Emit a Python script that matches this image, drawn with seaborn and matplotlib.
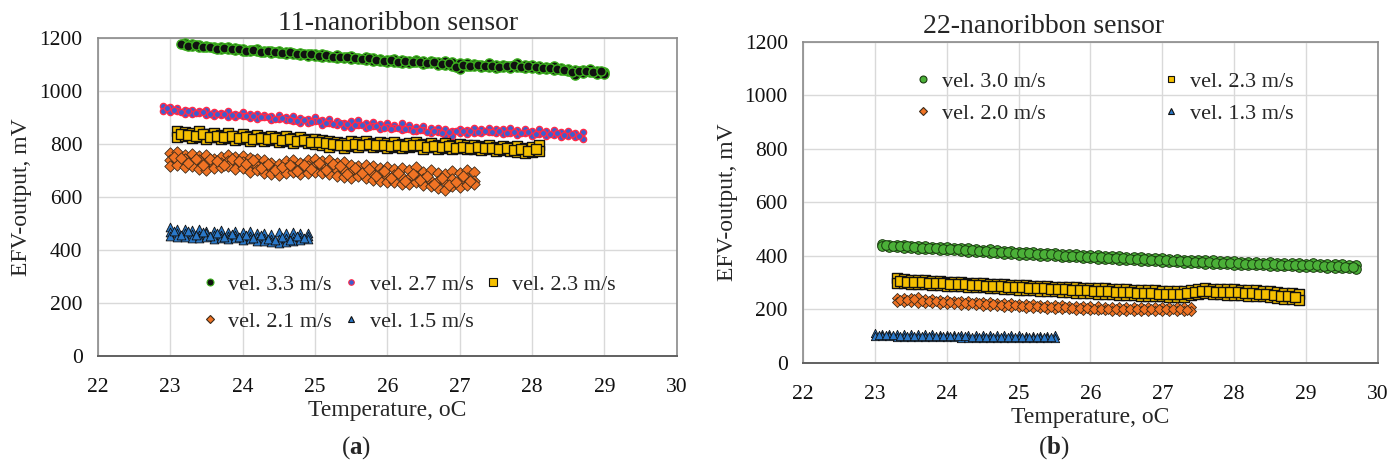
import matplotlib
matplotlib.use("Agg")
import matplotlib.pyplot as plt
import seaborn as sns
import pandas as pd
from matplotlib.lines import Line2D

# ---------------- Panel (a): 11-nanoribbon sensor ----------------
# sweep 1 (temperatures) with two readings, sweep 2 (in-between temperatures) with one reading
a33_t = [23.2,23.3,23.4,23.5,23.6,23.7,23.8,23.9,24.0,24.1,24.2,24.3,24.4,24.5,24.6,24.7,24.8,24.9,25.0,25.1,
         25.2,25.3,25.4,25.5,25.6,25.7,25.8,25.9,26.0,26.1,26.2,26.3,26.4,26.5,26.6,26.7,26.8,26.9,27.0,27.1,
         27.2,27.3,27.4,27.5,27.6,27.7,27.8,27.9,28.0,28.1,28.2,28.3,28.4,28.5,28.6,28.7,28.8,28.9,29.0]
a33_v1 = [1180,1176,1174,1171,1168,1166,1165,1162,1160,1156,1158,1152,1150,1152,1146,1144,1145,1140,1138,1140,
          1134,1136,1130,1132,1126,1128,1124,1120,1118,1122,1116,1114,1118,1112,1114,1110,1112,1108,1106,1104,
          1102,1100,1104,1098,1100,1096,1104,1098,1100,1094,1092,1096,1088,1084,1080,1078,1082,1076,1072]
a33_v2 = [1172,1170,1166,1165,1162,1160,1158,1156,1153,1150,1150,1146,1144,1142,1140,1138,1136,1134,1132,1130,
          1128,1126,1124,1122,1120,1118,1114,1112,1108,1110,1106,1104,1108,1102,1104,1100,1098,1094,1082,1096,
          1094,1092,1090,1088,1092,1086,1090,1088,1086,1084,1082,1080,1078,1074,1062,1068,1070,1064,1066]
a33_t2 = [23.15,23.25,23.35,23.45,23.55,23.65,23.75,23.85,23.95,24.05,24.15,24.25,24.35,24.45,24.55,24.65,24.75,24.85,24.95,25.05,
          25.15,25.25,25.35,25.45,25.55,25.65,25.75,25.85,25.95,26.05,26.15,26.25,26.35,26.45,26.55,26.65,26.75,26.85,26.95,27.05,
          27.15,27.25,27.35,27.45,27.55,27.65,27.75,27.85,27.95,28.05,28.15,28.25,28.35,28.45,28.55,28.65,28.75,28.85,28.95]
a33_v3 = [1178,1170,1172,1166,1168,1160,1163,1158,1160,1152,1154,1148,1150,1146,1144,1146,1140,1138,1140,1134,
          1136,1130,1128,1130,1124,1122,1124,1116,1114,1116,1110,1112,1108,1110,1106,1108,1102,1104,1090,1100,
          1096,1098,1094,1096,1092,1094,1098,1092,1094,1090,1088,1086,1084,1080,1070,1074,1076,1070,1074]

a27_t = [22.9,23.0,23.1,23.2,23.3,23.4,23.5,23.6,23.7,23.8,23.9,24.0,24.1,24.2,24.3,24.4,24.5,24.6,24.7,24.8,
         24.9,25.0,25.1,25.2,25.3,25.4,25.5,25.6,25.7,25.8,25.9,26.0,26.1,26.2,26.3,26.4,26.5,26.6,26.7,26.8,
         26.9,27.0,27.1,27.2,27.3,27.4,27.5,27.6,27.7,27.8,27.9,28.0,28.1,28.2,28.3,28.4,28.5,28.6,28.7]
a27_v1 = [945,938,935,930,928,925,930,922,918,925,915,920,912,915,910,905,910,902,905,898,
          895,900,892,895,888,880,885,890,878,882,875,880,872,878,870,865,868,860,862,855,
          850,858,852,860,855,862,858,855,860,852,858,850,855,848,852,845,850,842,845]
a27_v2 = [925,920,925,915,912,918,910,905,908,902,900,905,898,895,900,892,895,890,885,880,
          878,885,870,878,872,865,860,870,862,868,858,865,860,852,855,848,852,840,845,835,
          832,840,838,842,840,845,842,838,840,835,840,832,838,830,835,828,832,825,820]
a27_t2 = [22.95,23.05,23.15,23.25,23.35,23.45,23.55,23.65,23.75,23.85,23.95,24.05,24.15,24.25,24.35,24.45,24.55,24.65,24.75,24.85,
          24.95,25.05,25.15,25.25,25.35,25.45,25.55,25.65,25.75,25.85,25.95,26.05,26.15,26.25,26.35,26.45,26.55,26.65,26.75,26.85,
          26.95,27.05,27.15,27.25,27.35,27.45,27.55,27.65,27.75,27.85,27.95,28.05,28.15,28.25,28.35,28.45,28.55,28.65]
a27_v3 = [935,928,922,926,918,920,915,912,914,908,910,904,906,900,902,896,898,892,888,890,
          884,886,878,875,880,874,870,872,866,868,862,858,862,855,850,854,846,848,842,846,
          848,850,848,846,850,845,848,842,846,840,844,838,842,836,840,834,838,832]

a23_t = [23.1,23.2,23.3,23.4,23.5,23.6,23.7,23.8,23.9,24.0,24.1,24.2,24.3,24.4,24.5,24.6,24.7,24.8,24.9,25.0,
         25.1,25.2,25.3,25.4,25.5,25.6,25.7,25.8,25.9,26.0,26.1,26.2,26.3,26.4,26.5,26.6,26.7,26.8,26.9,27.0,
         27.1,27.2,27.3,27.4,27.5,27.6,27.7,27.8,27.9,28.0,28.1]
a23_v1 = [850,845,840,848,838,842,835,840,832,836,830,834,828,832,826,830,822,826,820,818,
          815,812,808,805,810,806,812,804,808,802,806,800,805,808,800,804,798,802,796,800,
          795,798,792,796,790,794,788,792,786,790,795]
a23_v2 = [825,830,822,828,820,825,818,822,815,820,812,818,810,815,808,812,805,810,802,800,
          795,790,795,785,792,790,795,788,792,786,790,785,788,792,780,788,782,786,780,784,
          780,782,778,780,775,778,772,770,765,770,775]
a23_t2 = [23.15,23.25,23.35,23.45,23.55,23.65,23.75,23.85,23.95,24.05,24.15,24.25,24.35,24.45,24.55,24.65,24.75,24.85,24.95,25.05,
          25.15,25.25,25.35,25.45,25.55,25.65,25.75,25.85,25.95,26.05,26.15,26.25,26.35,26.45,26.55,26.65,26.75,26.85,26.95,27.05,
          27.15,27.25,27.35,27.45,27.55,27.65,27.75,27.85,27.95,28.05]
a23_v3 = [838,835,830,836,828,832,826,830,824,826,820,824,818,822,815,818,812,814,808,806,
          802,800,798,796,800,797,800,795,798,794,796,792,795,798,790,794,788,792,786,790,
          786,788,784,786,780,783,778,780,775,780]

a21_t = [23.0,23.1,23.2,23.3,23.4,23.5,23.6,23.7,23.8,23.9,24.0,24.1,24.2,24.3,24.4,24.5,24.6,24.7,24.8,24.9,
         25.0,25.1,25.2,25.3,25.4,25.5,25.6,25.7,25.8,25.9,26.0,26.1,26.2,26.3,26.4,26.5,26.6,26.7,26.8,26.9,
         27.0,27.1,27.2]
a21_v1 = [765,770,760,762,755,760,745,752,758,750,755,748,745,738,730,725,735,740,730,738,
          742,735,740,728,732,720,718,722,715,710,712,705,708,700,712,695,700,690,685,698,
          692,700,695]
a21_v2 = [740,735,742,730,738,728,722,730,735,725,732,720,718,712,705,700,708,712,705,715,
          718,712,710,702,700,695,698,692,688,685,680,682,675,672,680,668,662,660,655,668,
          660,670,662]
a21_v3 = [715,720,712,718,705,700,708,712,715,705,710,695,700,690,688,682,690,695,686,692,
          695,690,688,680,675,672,678,670,665,660,658,655,650,648,655,645,640,635,628,640,
          638,645,650]
a21_t2 = [23.05,23.15,23.25,23.35,23.45,23.55,23.65,23.75,23.85,23.95,24.05,24.15,24.25,24.35,24.45,24.55,24.65,24.75,24.85,24.95,
          25.05,25.15,25.25,25.35,25.45,25.55,25.65,25.75,25.85,25.95,26.05,26.15,26.25,26.35,26.45,26.55,26.65,26.75,26.85,26.95,
          27.05,27.15]
a21_v4 = [752,748,730,745,722,742,735,720,742,735,725,738,708,725,700,712,722,698,722,705,
          728,700,725,715,688,708,690,705,678,698,670,690,662,688,665,680,650,672,645,655,
          678,660]

a15_t = [23.0,23.1,23.2,23.3,23.4,23.5,23.6,23.7,23.8,23.9,24.0,24.1,24.2,24.3,24.4,24.5,24.6,24.7,24.8,24.9]
a15_v1 = [485,478,480,475,478,472,470,474,468,472,466,470,462,465,460,466,462,468,464,462]
a15_v2 = [468,462,465,460,458,462,455,458,452,455,450,452,448,445,442,440,445,448,450,452]
a15_v3 = [452,450,448,446,444,448,442,446,440,444,438,440,434,432,428,426,430,434,436,440]
a15_t2 = [23.05,23.15,23.25,23.35,23.45,23.55,23.65,23.75,23.85,23.95,24.05,24.15,24.25,24.35,24.45,24.55,24.65,24.75,24.85]
a15_v4 = [472,458,470,455,466,452,462,450,460,448,458,444,455,440,436,448,438,452,446]

# ---------------- Panel (b): 22-nanoribbon sensor ----------------
b30_t = [23.1,23.2,23.3,23.4,23.5,23.6,23.7,23.8,23.9,24.0,24.1,24.2,24.3,24.4,24.5,24.6,24.7,24.8,24.9,25.0,
         25.1,25.2,25.3,25.4,25.5,25.6,25.7,25.8,25.9,26.0,26.1,26.2,26.3,26.4,26.5,26.6,26.7,26.8,26.9,27.0,
         27.1,27.2,27.3,27.4,27.5,27.6,27.7,27.8,27.9,28.0,28.1,28.2,28.3,28.4,28.5,28.6,28.7,28.8,28.9,29.0,
         29.1,29.2,29.3,29.4,29.5,29.6,29.7]
b30_v1 = [446,442,440,441,438,437,438,434,433,434,430,428,429,425,423,424,420,418,419,415,
          414,415,412,410,411,408,406,407,404,402,403,400,398,399,396,395,396,392,391,392,
          389,390,386,385,386,383,384,380,379,380,377,378,376,375,378,374,375,373,372,371,
          372,370,369,370,368,366,365]
b30_v2 = [436,434,432,430,429,427,426,424,422,422,420,418,416,414,413,411,409,407,405,404,
          404,402,401,399,398,396,395,394,392,391,390,389,388,386,385,384,382,381,380,378,
          377,376,375,374,372,371,370,369,368,366,366,365,364,364,363,362,362,361,360,359,
          358,357,356,355,354,353,352]
b30_t2 = [23.15,23.25,23.35,23.45,23.55,23.65,23.75,23.85,23.95,24.05,24.15,24.25,24.35,24.45,24.55,24.65,24.75,24.85,24.95,25.05,
          25.15,25.25,25.35,25.45,25.55,25.65,25.75,25.85,25.95,26.05,26.15,26.25,26.35,26.45,26.55,26.65,26.75,26.85,26.95,27.05,
          27.15,27.25,27.35,27.45,27.55,27.65,27.75,27.85,27.95,28.05,28.15,28.25,28.35,28.45,28.55,28.65,28.75,28.85,28.95,29.05,
          29.15,29.25,29.35,29.45,29.55,29.65]
b30_v3 = [440,437,435,436,433,431,430,429,427,426,424,422,421,419,418,416,414,413,412,410,
          409,407,406,405,403,401,400,399,397,396,395,393,392,391,390,388,387,386,385,383,
          382,381,380,378,377,376,375,373,372,372,371,370,369,368,369,367,366,367,365,364,
          364,363,362,362,360,359]

b23_t = [23.3,23.4,23.5,23.6,23.7,23.8,23.9,24.0,24.1,24.2,24.3,24.4,24.5,24.6,24.7,24.8,24.9,25.0,25.1,25.2,
         25.3,25.4,25.5,25.6,25.7,25.8,25.9,26.0,26.1,26.2,26.3,26.4,26.5,26.6,26.7,26.8,26.9,27.0,27.1,27.2,
         27.3,27.4,27.5,27.6,27.7,27.8,27.9,28.0,28.1,28.2,28.3,28.4,28.5,28.6,28.7,28.8,28.9]
b23_v1 = [318,312,310,309,308,306,305,304,303,301,300,299,297,296,295,294,292,291,290,289,
          288,286,285,284,283,282,281,280,279,278,277,276,275,274,273,272,271,270,270,269,
          268,272,276,278,276,277,275,276,274,273,272,270,268,265,262,260,256]
b23_v2 = [300,298,296,295,293,292,290,289,288,286,284,283,282,280,278,276,275,274,272,271,
          270,268,267,266,264,262,261,260,259,258,256,255,254,252,251,250,249,248,247,246,
          246,254,258,260,258,257,255,254,252,251,250,248,245,242,240,238,236]
b23_t2 = [23.35,23.45,23.55,23.65,23.75,23.85,23.95,24.05,24.15,24.25,24.35,24.45,24.55,24.65,24.75,24.85,24.95,25.05,25.15,25.25,
          25.35,25.45,25.55,25.65,25.75,25.85,25.95,26.05,26.15,26.25,26.35,26.45,26.55,26.65,26.75,26.85,26.95,27.05,27.15,27.25,
          27.35,27.45,27.55,27.65,27.75,27.85,27.95,28.05,28.15,28.25,28.35,28.45,28.55,28.65,28.75,28.85]
b23_v3 = [306,304,302,301,300,298,297,296,294,293,292,290,289,288,286,285,284,282,281,280,
          279,277,276,275,273,272,271,270,268,267,266,265,264,262,261,260,259,258,257,256,
          262,266,268,267,266,265,264,263,262,260,258,256,252,250,248,246]

b20_t = [23.3,23.4,23.5,23.6,23.7,23.8,23.9,24.0,24.1,24.2,24.3,24.4,24.5,24.6,24.7,24.8,24.9,25.0,25.1,25.2,
         25.3,25.4,25.5,25.6,25.7,25.8,25.9,26.0,26.1,26.2,26.3,26.4,26.5,26.6,26.7,26.8,26.9,27.0,27.1,27.2,
         27.3,27.4]
b20_v1 = [242,244,241,246,240,238,236,235,233,232,230,229,228,226,225,224,222,221,220,219,
          218,217,216,215,214,213,212,211,211,210,210,209,209,209,210,210,209,210,209,208,
          208,207]
b20_v2 = [226,228,226,225,224,222,221,220,219,218,216,215,214,212,211,210,208,207,206,205,
          204,203,202,201,200,199,198,197,196,196,195,195,194,194,195,194,193,192,193,194,
          193,194]
b20_t2 = [23.35,23.45,23.55,23.65,23.75,23.85,23.95,24.05,24.15,24.25,24.35,24.45,24.55,24.65,24.75,24.85,24.95,25.05,25.15,25.25,
          25.35,25.45,25.55,25.65,25.75,25.85,25.95,26.05,26.15,26.25,26.35,26.45,26.55,26.65,26.75,26.85,26.95,27.05,27.15,27.25,
          27.35]
b20_v3 = [236,235,238,232,231,230,228,227,226,225,223,222,220,219,218,216,215,214,212,211,
          210,209,208,207,206,205,204,203,203,202,201,201,202,201,200,201,200,200,201,200,
          199]

b13_t = [23.0,23.1,23.2,23.3,23.4,23.5,23.6,23.7,23.8,23.9,24.0,24.1,24.2,24.3,24.4,24.5,24.6,24.7,24.8,24.9,
         25.0,25.1,25.2,25.3,25.4,25.5]
b13_v1 = [112,109,108,108,107,107,106,106,106,105,105,105,104,104,104,104,103,103,103,103,
          103,102,102,102,102,104]
b13_v2 = [100,99,99,98,98,97,97,96,96,95,95,95,94,94,94,93,93,93,93,92,
          92,92,92,92,92,92]
b13_t2 = [23.05,23.15,23.25,23.35,23.45,23.55,23.65,23.75,23.85,23.95,24.05,24.15,24.25,24.35,24.45,24.55,24.65,24.75,24.85,24.95,
          25.05,25.15,25.25,25.35,25.45]
b13_v3 = [104,103,103,102,102,101,101,100,100,100,99,99,99,98,98,98,98,97,97,97,
          97,97,96,96,96]

labels_a = ["vel. 3.3 m/s", "vel. 2.7 m/s", "vel. 2.3 m/s", "vel. 2.1 m/s", "vel. 1.5 m/s"]
labels_b = ["vel. 3.0 m/s", "vel. 2.3 m/s", "vel. 2.0 m/s", "vel. 1.3 m/s"]


def long_df(label, t, *readings):
    rows = []
    for r in readings:
        for x, y in zip(t, r):
            rows.append((label, x, y))
    return pd.DataFrame(rows, columns=["series", "temp", "efv"])


df_a = pd.concat([
    long_df(labels_a[0], a33_t, a33_v1, a33_v2), long_df(labels_a[0], a33_t2, a33_v3),
    long_df(labels_a[1], a27_t, a27_v1, a27_v2), long_df(labels_a[1], a27_t2, a27_v3),
    long_df(labels_a[2], a23_t, a23_v1, a23_v2), long_df(labels_a[2], a23_t2, a23_v3),
    long_df(labels_a[3], a21_t, a21_v1, a21_v2, a21_v3), long_df(labels_a[3], a21_t2, a21_v4),
    long_df(labels_a[4], a15_t, a15_v1, a15_v2, a15_v3), long_df(labels_a[4], a15_t2, a15_v4),
])
df_b = pd.concat([
    long_df(labels_b[0], b30_t, b30_v1, b30_v2), long_df(labels_b[0], b30_t2, b30_v3),
    long_df(labels_b[1], b23_t, b23_v1, b23_v2), long_df(labels_b[1], b23_t2, b23_v3),
    long_df(labels_b[2], b20_t, b20_v1, b20_v2), long_df(labels_b[2], b20_t2, b20_v3),
    long_df(labels_b[3], b13_t, b13_v1, b13_v2), long_df(labels_b[3], b13_t2, b13_v3),
])

# style: (marker, face, edge, size, edge width)
style_a = {
    labels_a[0]: ("o", "#111111", "#3cb01e", 44, 1.0),
    labels_a[1]: ("o", "#3a5fd0", "#ff2a4a", 20, 1.0),
    labels_a[2]: ("s", "#f5c000", "#111111", 56, 1.0),
    labels_a[3]: ("D", "#f07324", "#3a2a1a", 34, 0.6),
    labels_a[4]: ("^", "#2a78c8", "#111111", 40, 0.6),
}
style_b = {
    labels_b[0]: ("o", "#4bb038", "#1a3a10", 48, 0.7),
    labels_b[1]: ("s", "#f5c000", "#111111", 54, 1.0),
    labels_b[2]: ("D", "#f07324", "#3a2a1a", 26, 0.6),
    labels_b[3]: ("^", "#2a78c8", "#111111", 36, 0.6),
}

sns.set_theme(style="white")
plt.rcParams["font.family"] = ["Liberation Serif", "DejaVu Serif"]
plt.rcParams["mathtext.fontset"] = "custom"
plt.rcParams["mathtext.rm"] = "Liberation Serif"
plt.rcParams["mathtext.bf"] = "Liberation Serif:bold"

fig = plt.figure(figsize=(13.98, 4.70), dpi=100)
ax_a = fig.add_axes([0.070, 0.243, 0.414, 0.676])
ax_b = fig.add_axes([0.5745, 0.228, 0.411, 0.683])


def draw(ax, df, labels, styles, title, title_x):
    for lab in labels:
        m, fc, ec, s, lw = styles[lab]
        sns.scatterplot(data=df[df["series"] == lab], x="temp", y="efv", ax=ax,
                        marker=m, color=fc, edgecolor=ec, s=s, linewidth=lw,
                        legend=False, zorder=3)
    ax.set_xlim(22, 30)
    ax.set_ylim(0, 1200)
    ax.set_xticks(range(22, 31))
    ax.set_yticks(range(0, 1201, 200))
    ax.grid(True, color="#d9d9d9", linewidth=1.0, zorder=0)
    ax.set_axisbelow(True)
    for sp in ax.spines.values():
        sp.set_color("#8a8a8a")
        sp.set_linewidth(1.2)
    ax.spines["bottom"].set_color("#606060")
    ax.spines["bottom"].set_linewidth(1.4)
    ax.tick_params(axis="both", length=0, labelsize=15.5, colors="#111111")
    ax.tick_params(axis="x", pad=16)
    ax.tick_params(axis="y", pad=11)
    ax.set_xlabel("Temperature, oC", fontsize=17, labelpad=2)
    ax.set_ylabel("EFV-output, mV", fontsize=17, labelpad=5)
    ax.set_title(title, fontsize=20, pad=6, x=title_x)


draw(ax_a, df_a, labels_a, style_a, "11-nanoribbon sensor", 0.519)
draw(ax_b, df_b, labels_b, style_b, "22-nanoribbon sensor", 0.419)


def handle(lab, styles, ms):
    m, fc, ec, s, lw = styles[lab]
    return Line2D([], [], linestyle="none", marker=m, markerfacecolor=fc,
                  markeredgecolor=ec, markersize=ms, markeredgewidth=0.8)


order_a = [labels_a[0], labels_a[3], labels_a[1], labels_a[4], labels_a[2]]
ms_a = {labels_a[0]: 5, labels_a[1]: 4, labels_a[2]: 6, labels_a[3]: 4, labels_a[4]: 5}
ax_a.legend([handle(l, style_a, ms_a[l]) for l in order_a], order_a, ncol=3,
            loc="upper left", bbox_to_anchor=(0.145, 0.32), frameon=False,
            fontsize=16, handlelength=0.7, handletextpad=0.5,
            columnspacing=0.5, labelspacing=0.75)

order_b = [labels_b[0], labels_b[2], labels_b[1], labels_b[3]]
ms_b = {labels_b[0]: 5, labels_b[1]: 5, labels_b[2]: 4, labels_b[3]: 5}
ax_b.legend([handle(l, style_b, ms_b[l]) for l in order_b], order_b, ncol=2,
            loc="upper left", bbox_to_anchor=(0.16, 0.97), frameon=False,
            fontsize=16, handlelength=0.7, handletextpad=0.5,
            columnspacing=5.3, labelspacing=0.5)

fig.text(0.2545, 0.02, r"($\mathbf{a}$)", ha="center", va="bottom", fontsize=18)
fig.text(0.7535, 0.02, r"($\mathbf{b}$)", ha="center", va="bottom", fontsize=18)

fig.savefig("out.png", dpi=100)
